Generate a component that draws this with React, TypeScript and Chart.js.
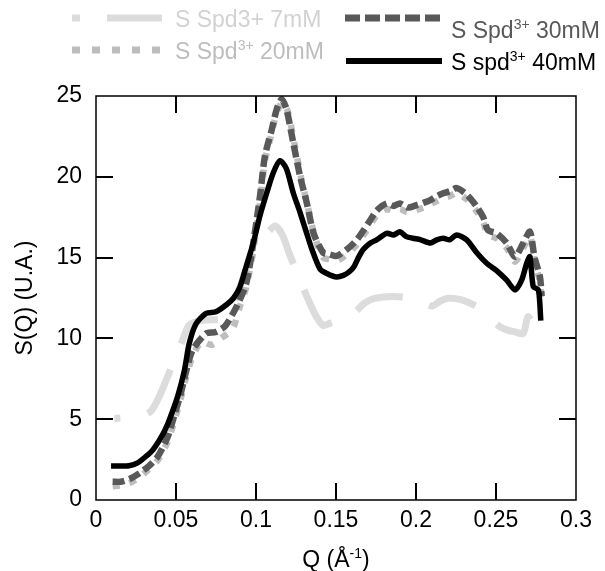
import React, { useEffect, useRef } from 'react';
import { Chart, registerables } from 'chart.js';

Chart.register(...registerables);

// ---------- data ----------
const q7 = [0.0115, 0.02, 0.028, 0.0344, 0.04, 0.045, 0.049, 0.053, 0.058, 0.065, 0.072, 0.079, 0.085, 0.09, 0.094, 0.1, 0.106, 0.112, 0.1165, 0.121, 0.1275, 0.134, 0.138, 0.142, 0.146, 0.154, 0.162, 0.168, 0.174, 0.185, 0.1967, 0.2, 0.205, 0.21, 0.215, 0.22, 0.228, 0.236, 0.241, 0.247, 0.2525, 0.2577, 0.262, 0.267, 0.27, 0.2735, 0.2765];
const s7 = [5.05, 5.1, 5.2, 5.5, 6.5, 7.7, 8.66, 9.6, 10.8, 11.1, 11.15, 11.2, 11.9, 13.2, 14.3, 15.6, 16.4, 16.95, 16.4, 15.2, 13.6, 12.1, 11.3, 10.8, 10.93, 11.2, 11.65, 12.2, 12.48, 12.6, 12.5, 12.3, 12.2, 12.0, 12.3, 12.48, 12.4, 12.07, 11.76, 11.2, 10.72, 10.5, 10.4, 10.3, 11.34, 10.8, 9.9];

const q20 = [0.0104, 0.0156, 0.021, 0.027, 0.033, 0.0385, 0.0448, 0.049, 0.053, 0.0563, 0.0604, 0.066, 0.072, 0.078, 0.0854, 0.09, 0.094, 0.098, 0.1025, 0.1056, 0.1098, 0.113, 0.1165, 0.12, 0.1245, 0.1285, 0.1325, 0.137, 0.142, 0.146, 0.1504, 0.1567, 0.163, 0.17, 0.1754, 0.1817, 0.186, 0.19, 0.195, 0.2004, 0.205, 0.209, 0.213, 0.217, 0.221, 0.2254, 0.2317, 0.238, 0.242, 0.245, 0.2504, 0.2567, 0.2619, 0.267, 0.2712, 0.274, 0.2775, 0.2785];
const s20 = [0.85, 0.9, 1.05, 1.4, 1.9, 2.45, 3.6, 4.9, 6.3, 7.6, 8.9, 9.8, 9.6, 10.0, 10.6, 12.0, 13.2, 15.3, 18.4, 21.0, 22.7, 24.0, 24.6, 24.0, 21.8, 19.8, 18.1, 16.2, 15.0, 14.9, 14.8, 15.2, 15.8, 16.8, 17.6, 18.0, 17.9, 18.0, 17.8, 17.95, 18.1, 18.3, 18.5, 18.7, 18.8, 19.0, 18.6, 17.85, 17.2, 16.4, 16.2, 15.6, 14.75, 15.6, 16.3, 14.8, 13.5, 12.3];

const q30 = [0.0104, 0.0156, 0.021, 0.027, 0.033, 0.0385, 0.0448, 0.049, 0.053, 0.0563, 0.0604, 0.0688, 0.075, 0.081, 0.0885, 0.094, 0.098, 0.1025, 0.1056, 0.1098, 0.113, 0.116, 0.119, 0.1233, 0.1275, 0.1317, 0.136, 0.142, 0.146, 0.1504, 0.1567, 0.163, 0.17, 0.1754, 0.1817, 0.186, 0.19, 0.195, 0.2004, 0.205, 0.209, 0.213, 0.217, 0.221, 0.2254, 0.2317, 0.238, 0.242, 0.245, 0.2504, 0.2567, 0.2619, 0.267, 0.2712, 0.274, 0.2775, 0.2785];
const s30 = [1.13, 1.13, 1.3, 1.65, 2.1, 2.68, 3.9, 5.26, 6.6, 7.94, 9.28, 10.3, 10.4, 10.8, 12.1, 13.45, 15.7, 18.8, 21.3, 22.9, 24.2, 24.8, 24.2, 22.1, 20.05, 18.4, 16.5, 15.3, 15.2, 15.1, 15.5, 16.1, 17.1, 17.9, 18.35, 18.2, 18.35, 18.1, 18.25, 18.4, 18.56, 18.8, 18.98, 19.1, 19.3, 18.9, 18.15, 17.5, 16.7, 16.5, 15.9, 15.05, 15.9, 16.6, 15.05, 13.8, 12.6];

const q40 = [0.0094, 0.015, 0.0206, 0.026, 0.031, 0.0355, 0.0396, 0.043, 0.0458, 0.051, 0.0552, 0.0583, 0.0625, 0.0688, 0.075, 0.0817, 0.086, 0.09, 0.094, 0.0983, 0.1025, 0.1067, 0.1108, 0.115, 0.119, 0.1233, 0.1275, 0.1317, 0.135, 0.14, 0.1446, 0.1504, 0.1546, 0.158, 0.161, 0.164, 0.167, 0.1715, 0.1754, 0.1817, 0.186, 0.19, 0.194, 0.198, 0.203, 0.209, 0.213, 0.217, 0.221, 0.2254, 0.2317, 0.238, 0.2442, 0.2504, 0.2567, 0.2619, 0.266, 0.2692, 0.2712, 0.2733, 0.2765, 0.278];
const s40 = [2.1, 2.1, 2.12, 2.3, 2.68, 3.1, 3.7, 4.3, 4.95, 6.4, 8.0, 9.7, 10.9, 11.55, 11.65, 12.1, 12.5, 13.2, 14.5, 15.9, 17.6, 19.0, 20.25, 21.0, 20.5, 19.0, 17.8, 16.5, 15.5, 14.3, 14.0, 13.8, 13.9, 14.1, 14.4, 15.0, 15.5, 15.9, 16.1, 16.5, 16.4, 16.6, 16.3, 16.2, 16.1, 15.9, 16.1, 16.2, 16.1, 16.4, 16.1, 15.3, 14.65, 14.2, 13.6, 13.0, 13.6, 14.65, 15.05, 13.2, 13.0, 11.1];

const seriesNames = ['S Spd3+ 7mM', 'S Spd^{3+} 20mM', 'S Spd^{3+} 30mM', 'S spd^{3+} 40mM'];
const xTickValues = [0, 0.05, 0.1, 0.15, 0.2, 0.25, 0.3];
const xTickLabels = ['0', '0.05', '0.1', '0.15', '0.2', '0.25', '0.3'];
const yTickValues = [0, 5, 10, 15, 20, 25];
const yTickLabels = ['0', '5', '10', '15', '20', '25'];
const xTitle = 'Q (Å^{-1})';
const yTitle = 'S(Q) (U.A.)';

// ---------- styles ----------
const FONT = '"Liberation Sans", Arial, Helvetica, sans-serif';
const MAIN_SIZE = 23;
const SUP_SIZE = 14;

const toPoints = (q: number[], s: number[]) => q.map((x, i) => ({ x, y: s[i] }));

const legendStyles = [
  { color: '#dcdcdc', text: '#d2d2d2', x0: 72, x1: 162, y: 18, dash: [8, 27, 60, 40], width: 7, tx: 175, ty: 18.5 },
  { color: '#bdbdbd', text: '#bdbdbd', x0: 72, x1: 160, y: 50, dash: [8, 12], width: 7, tx: 175, ty: 51 },
  { color: '#595959', text: '#595959', x0: 345, x1: 442, y: 18, dash: [15, 5], width: 7, tx: 451, ty: 30 },
  { color: '#000000', text: '#000000', x0: 346, x1: 442, y: 61, dash: [], width: 6, tx: 451, ty: 62 },
];

function drawRich(ctx: CanvasRenderingContext2D, str: string, x: number, yCenter: number, color: string, align: 'left' | 'center' = 'left') {
  const parts = str.split(/(\^\{[^}]*\})/).filter((p) => p.length > 0);
  const baseline = yCenter + (MAIN_SIZE * 0.716) / 2;
  const items = parts.map((p) => {
    const sup = p.startsWith('^{');
    const t = sup ? p.slice(2, -1) : p;
    ctx.font = `${sup ? SUP_SIZE : MAIN_SIZE}px ${FONT}`;
    return { t, sup, w: ctx.measureText(t).width };
  });
  const total = items.reduce((a, b) => a + b.w, 0);
  let cx = align === 'center' ? x - total / 2 : x;
  ctx.save();
  ctx.fillStyle = color;
  ctx.textAlign = 'left';
  ctx.textBaseline = 'alphabetic';
  for (const it of items) {
    ctx.font = `${it.sup ? SUP_SIZE : MAIN_SIZE}px ${FONT}`;
    ctx.fillText(it.t, cx, it.sup ? baseline - 9 : baseline);
    cx += it.w;
  }
  ctx.restore();
}

const framePlugin = {
  id: 'frameTicks',
  afterDraw(chart: any) {
    const ctx: CanvasRenderingContext2D = chart.ctx;
    const { left, right, top, bottom } = chart.chartArea;
    const TL = 17;
    const xs = chart.scales.x;
    const ys = chart.scales.y;
    ctx.save();
    ctx.setLineDash([]);
    ctx.strokeStyle = '#000000';
    ctx.fillStyle = '#000000';
    ctx.lineWidth = 1.5;
    ctx.beginPath();
    ctx.rect(left, top, right - left, bottom - top);
    ctx.stroke();
    for (const v of xTickValues) {
      const px = Math.round(xs.getPixelForValue(v));
      if (px <= left + 1 || px >= right - 1) continue;
      ctx.fillRect(px - 1, bottom - TL, 2, TL);
      ctx.fillRect(px - 1, top, 2, TL);
    }
    for (const v of yTickValues) {
      const py = Math.round(ys.getPixelForValue(v));
      if (py <= top + 1 || py >= bottom - 1) continue;
      ctx.fillRect(left, py - 1, TL, 2);
      ctx.fillRect(right - TL, py - 1, TL, 2);
    }
    ctx.restore();

    // x-axis title with superscript
    drawRich(ctx, xTitle, (left + right) / 2, 559, '#000000', 'center');

    // legend
    legendStyles.forEach((st, i) => {
      ctx.save();
      ctx.strokeStyle = st.color;
      ctx.lineWidth = st.width;
      ctx.lineCap = 'butt';
      ctx.setLineDash(st.dash);
      ctx.beginPath();
      ctx.moveTo(st.x0, st.y);
      ctx.lineTo(st.x1, st.y);
      ctx.stroke();
      ctx.restore();
      drawRich(ctx, seriesNames[i], st.tx, st.ty, st.text);
    });
  },
};

export default function App() {
  const ref = useRef<HTMLCanvasElement | null>(null);

  useEffect(() => {
    document.body.style.margin = '0';
    const canvas = ref.current;
    if (!canvas) return;
    const chart = new Chart(canvas, {
      type: 'line',
      data: {
        datasets: [
          {
            label: seriesNames[3],
            data: toPoints(q40, s40),
            borderColor: '#000000',
            borderWidth: 5.5,
            pointRadius: 0,
            tension: 0.25,
            order: 0,
          },
          {
            label: seriesNames[2],
            data: toPoints(q30, s30),
            borderColor: '#595959',
            borderWidth: 6.5,
            borderDash: [12, 5],
            borderCapStyle: 'butt',
            pointRadius: 0,
            tension: 0.25,
            order: 1,
          },
          {
            label: seriesNames[1],
            data: toPoints(q20, s20),
            borderColor: '#bdbdbd',
            borderWidth: 6.5,
            borderDash: [7, 10],
            borderCapStyle: 'butt',
            pointRadius: 0,
            tension: 0.25,
            order: 2,
          },
          {
            label: seriesNames[0],
            data: toPoints(q7, s7),
            borderColor: '#dcdcdc',
            borderWidth: 7,
            borderDash: [50, 28],
            borderDashOffset: 44,
            borderCapStyle: 'butt',
            pointRadius: 0,
            tension: 0.25,
            order: 3,
          },
        ] as any,
      },
      options: {
        animation: false,
        responsive: false,
        devicePixelRatio: 1,
        layout: { padding: { top: 96, right: 29, left: 0, bottom: 0 } },
        plugins: {
          legend: { display: false },
          tooltip: { enabled: false },
        },
        scales: {
          x: {
            type: 'linear',
            min: 0,
            max: 0.3,
            grid: { display: false, drawTicks: false },
            border: { display: false },
            ticks: {
              stepSize: 0.05,
              padding: 7,
              color: '#000',
              font: { family: FONT, size: MAIN_SIZE },
              maxRotation: 0,
              callback: (_v: any, i: number) => xTickLabels[i],
            },
            afterFit: (s: any) => {
              s.height = 71;
            },
          },
          y: {
            type: 'linear',
            min: 0,
            max: 25,
            grid: { display: false, drawTicks: false },
            border: { display: false },
            ticks: {
              stepSize: 5,
              padding: 14,
              color: '#000',
              font: { family: FONT, size: MAIN_SIZE },
              callback: (_v: any, i: number) => yTickLabels[i],
            },
            title: {
              display: true,
              text: yTitle,
              color: '#000',
              font: { family: FONT, size: MAIN_SIZE },
              padding: { top: 12, bottom: 0 },
            },
            afterFit: (s: any) => {
              s.width = 96;
            },
          },
        },
      } as any,
      plugins: [framePlugin],
    });
    return () => chart.destroy();
  }, []);

  return (
    <div style={{ width: 605, height: 571, position: 'relative', background: '#fff' }}>
      <canvas ref={ref} width={605} height={571} style={{ display: 'block' }} />
    </div>
  );
}
